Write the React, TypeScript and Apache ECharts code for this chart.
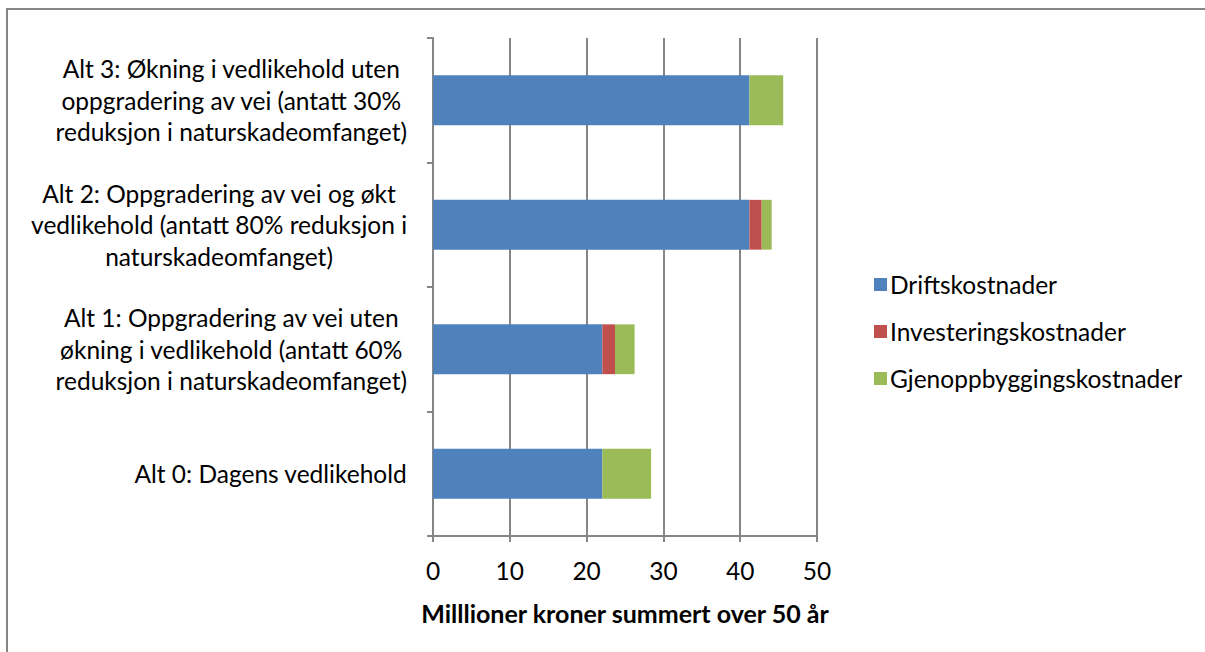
import React, { useEffect, useRef } from "react";
import * as echarts from "echarts";

const categories = [
  "Alt 0: Dagens vedlikehold",
  "Alt 1: Oppgradering av vei uten\nøkning i vedlikehold (antatt 60%\nreduksjon i naturskadeomfanget)",
  "Alt 2: Oppgradering av vei og økt\nvedlikehold (antatt 80% reduksjon i\nnaturskadeomfanget)",
  "Alt 3: Økning i vedlikehold uten\noppgradering av vei (antatt 30%\nreduksjon i naturskadeomfanget)",
];
const seriesNames = ["Driftskostnader", "Investeringskostnader", "Gjenoppbyggingskostnader"];
const drift = [22.05, 22.05, 41.2, 41.2];
const invest = [0, 1.65, 1.6, 0];
const gjen = [6.35, 2.55, 1.3, 4.4];
const colors = ["#4F81BD", "#C0504D", "#9BBB59"];
const xTitle = "Milllioner kroner summert over 50 år";

const FONT = "Lato, 'Noto Sans', sans-serif";
const FS = 24.5;

export default function App() {
  const ref = useRef<HTMLDivElement>(null);
  useEffect(() => {
    if (!ref.current) return;
    const chart = echarts.init(ref.current, null, { renderer: "svg" });
    const values = [drift, invest, gjen];
    chart.setOption({
      animation: false,
      textStyle: { fontFamily: FONT },
      graphic: [
        {
          type: "rect",
          shape: { x: 7, y: 9, width: 1210, height: 680 },
          style: { fill: "none", stroke: "#868686", lineWidth: 2 },
          silent: true,
        },
      ],
      grid: { left: 433, right: 388, top: 38, bottom: 116, containLabel: false },
      legend: {
        orient: "vertical",
        left: 869,
        top: 267,
        itemWidth: 13,
        itemHeight: 13,
        itemGap: 22,
        icon: "rect",
        textStyle: { fontFamily: FONT, fontSize: FS, color: "#000", padding: [0, 0, 0, -2] },
        data: seriesNames,
      },
      xAxis: {
        type: "value",
        min: 0,
        max: 50,
        interval: 10,
        name: xTitle,
        nameLocation: "middle",
        nameGap: 64,
        nameTextStyle: { fontFamily: FONT, fontSize: 25, fontWeight: "bold", color: "#000" },
        axisLine: { show: true, lineStyle: { color: "#868686", width: 2 } },
        axisTick: { show: true, length: 6, lineStyle: { color: "#868686", width: 2 } },
        axisLabel: { fontFamily: FONT, fontSize: FS, color: "#000", margin: 22 },
        splitLine: { show: true, lineStyle: { color: "#868686", width: 2 } },
      },
      yAxis: {
        type: "category",
        data: categories,
        axisLine: { show: true, lineStyle: { color: "#868686", width: 2 } },
        axisTick: { show: true, length: 6, lineStyle: { color: "#868686", width: 2 } },
        axisLabel: {
          margin: 26,
          formatter: (v: string) => "{c|" + v + "}",
          rich: {
            c: {
              fontFamily: FONT,
              fontSize: FS,
              lineHeight: 31.5,
              color: "#000",
              align: "center",
            },
          },
        },
      },
      series: seriesNames.map((name, i) => ({
        name,
        type: "bar",
        stack: "total",
        barWidth: "40%",
        itemStyle: { color: colors[i] },
        data: values[i],
      })),
    });
    return () => chart.dispose();
  }, []);
  return (
    <div
      ref={ref}
      style={{ position: "fixed", left: 0, top: 0, width: 1205, height: 652, background: "#fff" }}
    />
  );
}
